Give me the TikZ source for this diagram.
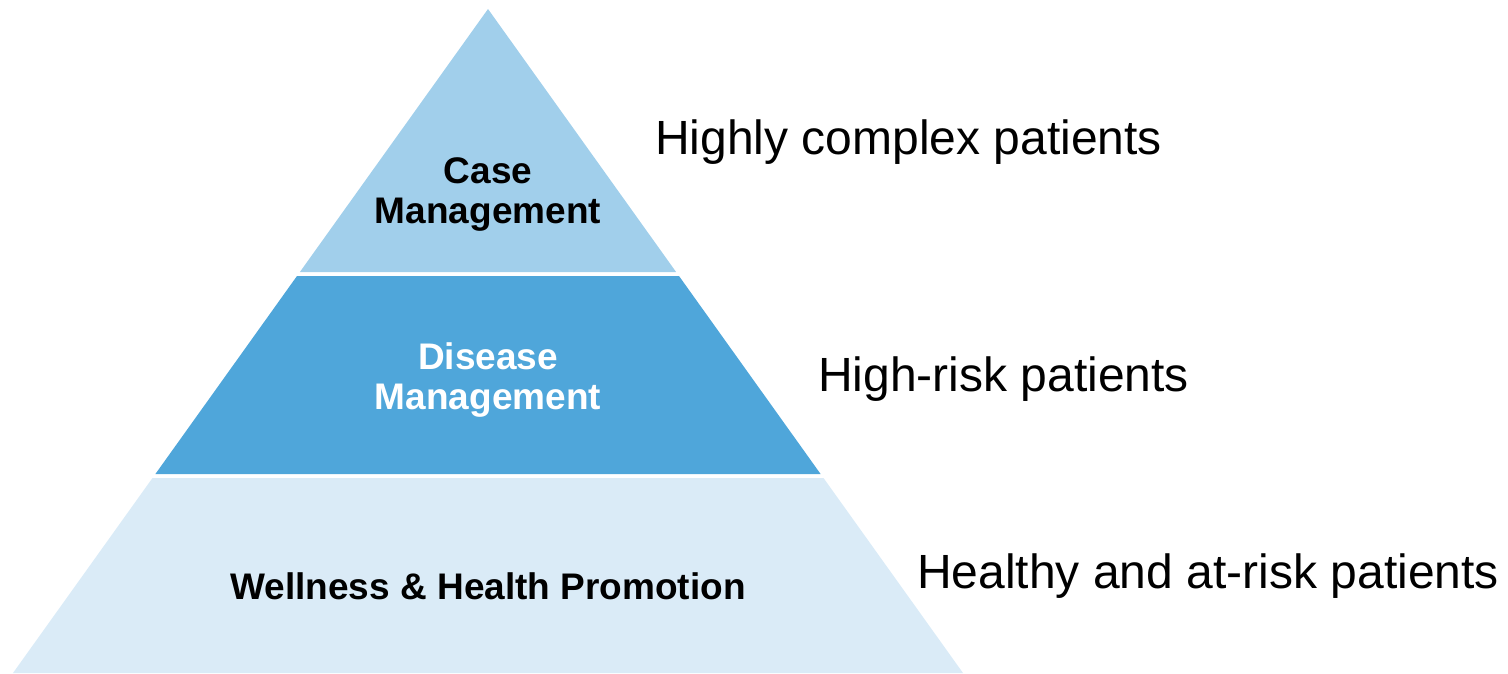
\documentclass[tikz,border=0pt]{standalone}
\usepackage{fontspec}
\setmainfont{Liberation Sans}
\definecolor{tierTop}{RGB}{161,207,235}
\definecolor{tierMid}{RGB}{79,166,218}
\definecolor{tierBase}{RGB}{218,235,247}
\begin{document}
\begin{tikzpicture}[x=1pt,y=-1pt,
  tierlabel/.style={inner sep=0pt,align=center,font=\fontsize{37}{40}\selectfont\bfseries},
  sidelabel/.style={inner sep=0pt,anchor=base west,font=\fontsize{48}{56}\selectfont}]
  \useasboundingbox (0,0) rectangle (1508,674);
  % pyramid tiers (apex 488,9; base y=673)
  \fill[tierTop]  (488,9) -- (676.1,272) -- (299.9,272) -- cycle;
  \fill[tierMid]  (297.0,276) -- (679.0,276) -- (820.6,474) -- (155.4,474) -- cycle;
  \fill[tierBase] (152.5,478) -- (823.5,478) -- (963.0,673) -- (13.0,673) -- cycle;
  % tier names
  \node[tierlabel] (caseM) at (488,194.5) {Case\\Management};
  \node[tierlabel,text=white] (diseaseM) at (488,380.5) {Disease\\Management};
  \node[tierlabel,anchor=base] (wellness) at (488,599) {Wellness \& Health Promotion};
  % populations
  \node[sidelabel] (complexP) at (655,155) {Highly complex patients};
  \node[sidelabel] (highriskP) at (818,391) {High-risk patients};
  \node[sidelabel] (healthyP) at (917,588) {Healthy and at-risk patients};
\end{tikzpicture}
\end{document}
